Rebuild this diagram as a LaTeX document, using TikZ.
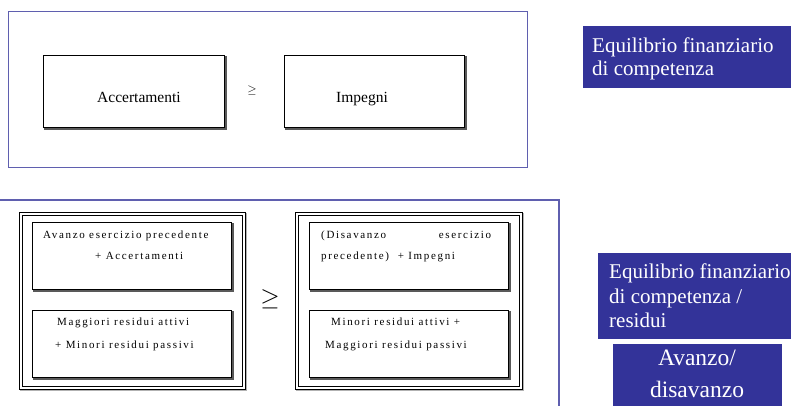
\documentclass[tikz,border=0pt]{standalone}
\usepackage{fontspec}
\setmainfont{Liberation Serif}
\newfontfamily\spaced[LetterSpace=15]{Liberation Serif}
\definecolor{navy}{RGB}{51,51,153}
\definecolor{framec}{RGB}{95,95,175}
\begin{document}
\begin{tikzpicture}[x=1pt,y=-1pt,
  frame/.style={draw=framec, line width=1.2pt},
  shbox/.style={draw=black, line width=0.8pt, fill=white, inner sep=0pt, anchor=north west,
     preaction={draw=black!65, line width=1.6pt, transform canvas={xshift=1.6pt, yshift=-1.6pt}}},
  dblbox/.style={draw=black, line width=0.6pt, fill=white, inner sep=0pt, anchor=north west,
     preaction={draw=black!30, line width=1.4pt, transform canvas={xshift=1.4pt, yshift=-1.4pt}}},
  innerline/.style={draw=black, line width=0.6pt, inner sep=0pt, anchor=north west},
  bluebox/.style={fill=navy, inner sep=0pt, anchor=north west},
  bigtxt/.style={font=\fontsize{15.5}{18}\selectfont, inner sep=0pt, anchor=base west},
  bluetxt/.style={text=white, font=\fontsize{21}{24}\selectfont, inner sep=0pt, anchor=base west},
  smalltxt/.style={font=\fontsize{11}{13}\spaced, inner sep=0pt, anchor=base west}
]
\useasboundingbox (0,0) rectangle (791,406);

% top frame
\node[frame, inner sep=0pt, anchor=north west, minimum width=519pt, minimum height=156pt] (topframe) at (8,11) {};
\node[shbox, minimum width=181pt, minimum height=72pt] (acc) at (43,55) {};
\node[shbox, minimum width=180pt, minimum height=72pt] (imp) at (284,55) {};
\node[bigtxt] (acctxt) at (97,103) {Accertamenti};
\node[bigtxt] (imptxt) at (336,103) {Impegni};
\node[inner sep=0pt, font=\fontsize{13}{13}\selectfont] (geq1) at (252,91) {$\geq$};

% blue label 1
\node[bluebox, minimum width=208pt, minimum height=62pt] (eq1) at (583,26) {};
\node[bluetxt] (eq1a) at (592,53) {Equilibrio finanziario};
\node[bluetxt] (eq1b) at (592,76) {di competenza};

% bottom frame
\coordinate (bf1) at (0,200);
\coordinate (bf2) at (559,200);
\coordinate (bf3) at (559,406);
\draw[draw=framec, line width=1.2pt] (bf1) -- (bf2) -- (bf3);

% left group
\node[dblbox, minimum width=226pt, minimum height=177pt] (lout) at (19,212) {};
\node[innerline, minimum width=220pt, minimum height=171pt] (lin) at (22,215) {};
\node[shbox, minimum width=199pt, minimum height=67pt] (l1) at (32,222) {};
\node[shbox, minimum width=199pt, minimum height=67pt] (l2) at (32,310) {};
\node[smalltxt] (l1a) at (43,238) {Avanzo esercizio precedente};
\node[smalltxt] (l1b) at (95,259) {+ Accertamenti};
\node[smalltxt] (l2a) at (57,325) {Maggiori residui attivi};
\node[smalltxt] (l2b) at (55,348) {+ Minori residui passivi};

\node[inner sep=0pt, font=\fontsize{34}{34}\selectfont] (geq2) at (270,299) {$\geq$};

% right group
\node[dblbox, minimum width=227pt, minimum height=177pt] (rout) at (295,212) {};
\node[innerline, minimum width=221pt, minimum height=171pt] (rin) at (298,215) {};
\node[shbox, minimum width=199pt, minimum height=67pt] (r1) at (309,222) {};
\node[shbox, minimum width=199pt, minimum height=67pt] (r2) at (309,310) {};
\node[smalltxt] (r1a) at (321,238) {\hbox to 170pt{(Disavanzo\hfill esercizio}};
\node[smalltxt] (r1b) at (321,259) {precedente)\ \ + Impegni};
\node[smalltxt] (r2a) at (331,325) {Minori residui attivi +};
\node[smalltxt] (r2b) at (325,348) {Maggiori residui passivi};

% blue labels 2 and 3
\node[bluebox, minimum width=193pt, minimum height=86pt] (eq2) at (598,253) {};
\node[bluetxt] (eq2a) at (609,278) {Equilibrio finanziario};
\node[bluetxt] (eq2b) at (609,303) {di competenza /};
\node[bluetxt] (eq2c) at (609,327) {residui};
\node[bluebox, minimum width=169pt, minimum height=62pt] (av) at (613,344) {};
\node[text=white, font=\fontsize{23.5}{32}\selectfont, inner sep=0pt, anchor=base] (ava) at (697,365) {Avanzo/};
\node[text=white, font=\fontsize{23.5}{32}\selectfont, inner sep=0pt, anchor=base] (avb) at (697,397) {disavanzo};
\end{tikzpicture}
\end{document}
